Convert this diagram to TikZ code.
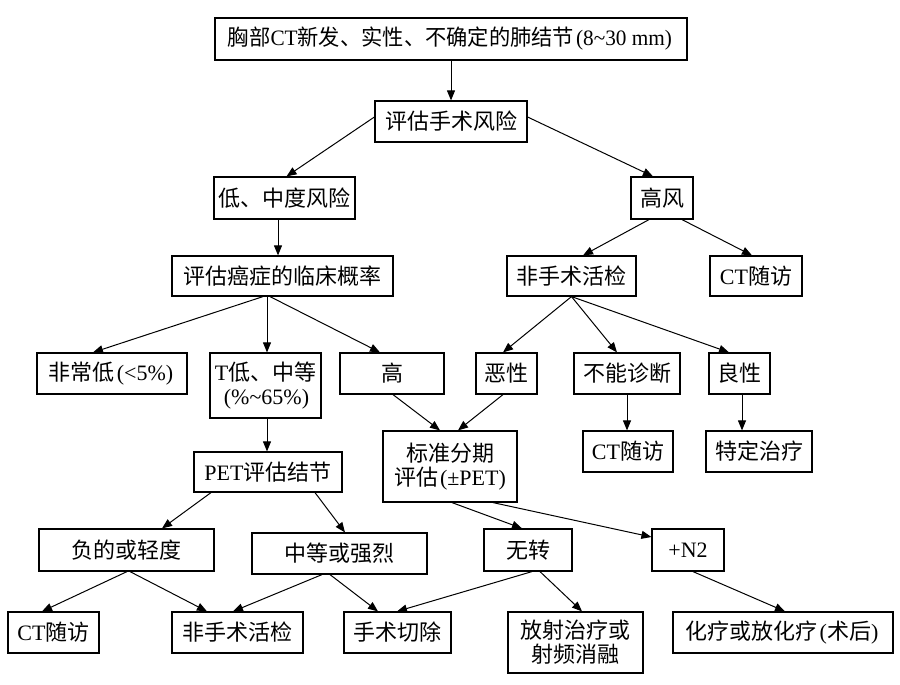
\documentclass[tikz,border=0pt]{standalone}
\usepackage{fontspec}
\usepackage{graphicx}
\setmainfont{Liberation Serif}
\newfontfamily\cjk{Noto Sans CJK SC}
\newfontfamily\latf{Liberation Serif}
\newcommand{\lat}[1]{{\latf #1}}
\newcommand{\lp}{\hspace{2pt}{\latf (}}
\newcommand{\rp}{{\latf )}\hspace{2pt}}
\usetikzlibrary{arrows.meta}
\tikzset{
  bx/.style={draw, line width=1.2pt, inner sep=0pt, align=center,
    font=\cjk\fontsize{22}{24}\selectfont},
  arr/.style={line width=1pt, -{Triangle[length=10pt,width=8pt]}}
}
\begin{document}
\begin{tikzpicture}[x=1pt,y=-1pt]
\fill[white] (0,0) rectangle (900,685);
\useasboundingbox (0,0) rectangle (900,685);
% nodes
\node[bx, minimum width=472pt, minimum height=42pt] (top) at (451,39)
  {\resizebox{446pt}{\height}{胸部\lat{CT}新发、实性、不确定的肺结节\lp\lat{8\textasciitilde30 mm}\rp}};
\node[bx, minimum width=152pt, minimum height=41pt] (eval) at (451,121.5) {评估手术风险};
\node[bx, minimum width=141pt, minimum height=42pt] (low) at (284.5,198) {低、中度风险};
\node[bx, minimum width=62pt, minimum height=42pt] (hr) at (662,198) {高风};
\node[bx, minimum width=221pt, minimum height=40pt] (prob) at (282.5,276) {评估癌症的临床概率};
\node[bx, minimum width=129pt, minimum height=40pt] (nsba) at (571.5,276) {非手术活检};
\node[bx, minimum width=92pt, minimum height=40pt] (cta) at (756,276) {\lat{CT}随访};
\node[bx, minimum width=150pt, minimum height=41pt] (vl) at (112,373.5) {非常低\lp\lat{<5\%}\rp};
\node[bx, minimum width=111pt, minimum height=65pt] (tl) at (265.5,385.5) {\lat{T}低、中等\\\lp\lat{\%\textasciitilde65\%}\rp};
\node[bx, minimum width=104pt, minimum height=41pt] (hi) at (392,373.5) {高};
\node[bx, minimum width=61pt, minimum height=41pt] (mal) at (506.5,373.5) {恶性};
\node[bx, minimum width=106pt, minimum height=41pt] (nd) at (627,373.5) {不能诊断};
\node[bx, minimum width=61pt, minimum height=41pt] (bn) at (739.5,373.5) {良性};
\node[bx, minimum width=134pt, minimum height=71pt] (std) at (450,466.5) {标准分期\\评估\lp\lat{±PET}\rp};
\node[bx, minimum width=90pt, minimum height=41pt] (ctb) at (628,451.5) {\lat{CT}随访};
\node[bx, minimum width=106pt, minimum height=41pt] (tr) at (759,451.5) {特定治疗};
\node[bx, minimum width=148pt, minimum height=40pt] (pet) at (268,472) {\lat{PET}评估结节};
\node[bx, minimum width=175pt, minimum height=42pt] (neg) at (126.5,550) {负的或轻度};
\node[bx, minimum width=175pt, minimum height=41pt] (mod) at (339.5,553.5) {中等或强烈};
\node[bx, minimum width=88pt, minimum height=42pt] (nm) at (528,550) {无转};
\node[bx, minimum width=72pt, minimum height=42pt] (ntwo) at (688,550) {\lat{+N2}};
\node[bx, minimum width=91pt, minimum height=41pt] (ctc) at (53.5,632.5) {\lat{CT}随访};
\node[bx, minimum width=131pt, minimum height=41pt] (nsbb) at (237.5,632.5) {非手术活检};
\node[bx, minimum width=107pt, minimum height=41pt] (sur) at (397.5,632.5) {手术切除};
\node[bx, minimum width=135pt, minimum height=61pt] (rad) at (575.5,642.5) {放射治疗或\\射频消融};
\node[bx, minimum width=220pt, minimum height=41pt] (chemo) at (783,632.5) {化疗或放化疗\lp 术后\rp};
% connectors
\draw[arr] (top.south) -- (top.south |- eval.north);
\draw[arr] ([yshift=4.5pt]eval.west) -- ([xshift=2pt]low.north);
\draw[arr] ([yshift=4.5pt]eval.east) -- ([xshift=-9pt]hr.north);
\draw[arr] ([xshift=-6.5pt]low.south) -- ([xshift=-6.5pt]low.south |- prob.north);
\draw[arr] ([xshift=-13pt]hr.south) -- ([xshift=11.5pt]nsba.north);
\draw[arr] ([xshift=20pt]hr.south) -- ([xshift=-4pt]cta.north);
\draw[arr] ([xshift=-19.5pt]prob.south) -- ([xshift=-19pt]vl.north);
\draw[arr] ([xshift=1.5pt]tl.north |- prob.south) -- ([xshift=1.5pt]tl.north);
\draw[arr] ([xshift=-12.5pt]prob.south) -- ([xshift=-12pt]hi.north);
\draw[arr] (nsba.south) -- ([xshift=-3.5pt]mal.north);
\draw[arr] (nsba.south) -- ([xshift=-10pt]nd.north);
\draw[arr] (nsba.south) -- ([xshift=-10.5pt]bn.north);
\draw[arr] ([xshift=1pt]hi.south) -- ([xshift=-10pt]std.north);
\draw[arr] ([xshift=-3.5pt]mal.south) -- ([xshift=8pt]std.north);
\draw[arr] (nd.south) -- (nd.south |- ctb.north);
\draw[arr] ([xshift=2.5pt]bn.south) -- ([xshift=2.5pt]bn.south |- tr.north);
\draw[arr] ([xshift=1.5pt]tl.south) -- ([xshift=1.5pt]tl.south |- pet.north);
\draw[arr] ([xshift=-57pt]pet.south) -- ([xshift=35.5pt]neg.north);
\draw[arr] ([xshift=47pt]pet.south) -- ([xshift=5.5pt]mod.north);
\draw[arr] ([xshift=2pt]std.south) -- ([xshift=-6pt]nm.north);
\draw[arr] ([xshift=43pt]std.south) -- ([yshift=13pt]ntwo.west);
\draw[arr] ([xshift=0.5pt]neg.south) -- ([xshift=-11.5pt]ctc.north);
\draw[arr] ([xshift=3.5pt]neg.south) -- ([xshift=-30.5pt]nsbb.north);
\draw[arr] ([xshift=-17.5pt]mod.south) -- ([xshift=-4.5pt]nsbb.north);
\draw[arr] ([xshift=-9.5pt]mod.south) -- ([xshift=-19.5pt]sur.north);
\draw[arr] ([xshift=4pt]nm.south) -- ([xshift=-0.5pt]sur.north);
\draw[arr] ([xshift=12pt]nm.south) -- ([xshift=6.5pt]rad.north);
\draw[arr] ([xshift=5pt]ntwo.south) -- ([xshift=2pt]chemo.north);
\end{tikzpicture}
\end{document}
